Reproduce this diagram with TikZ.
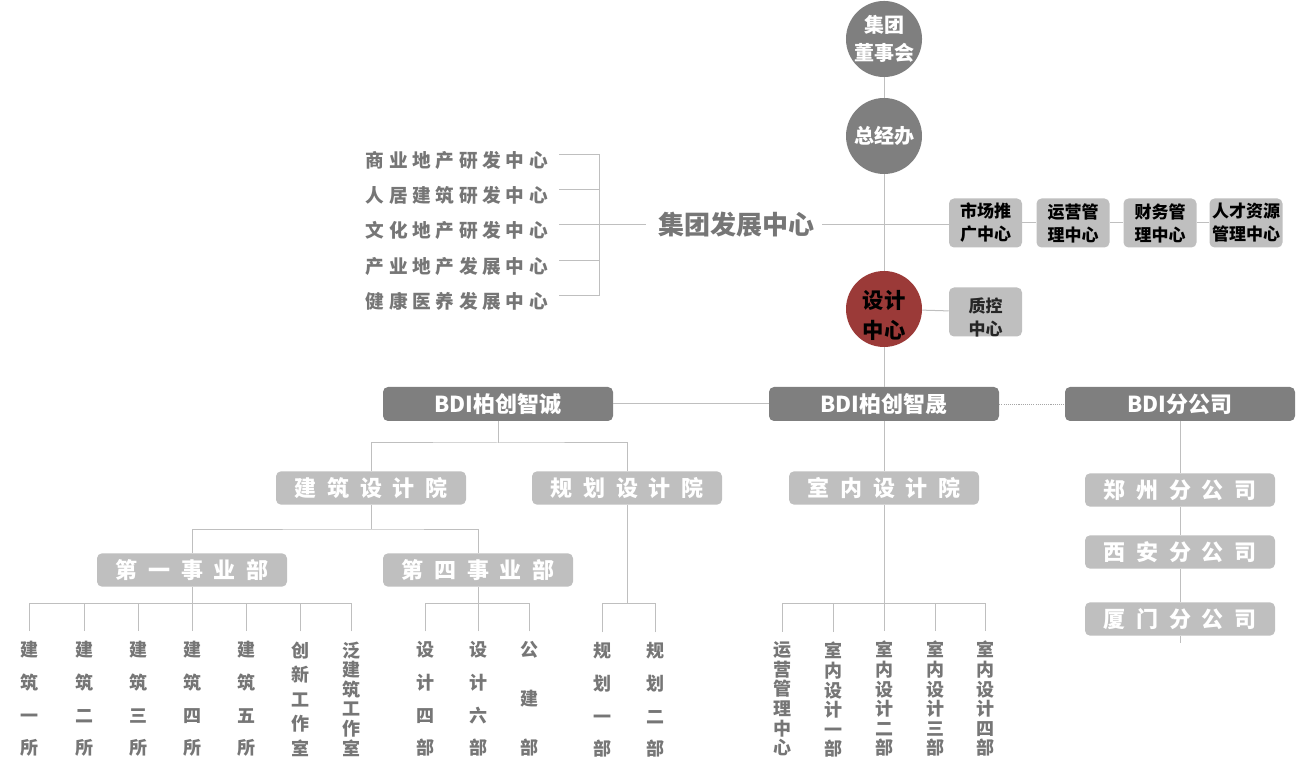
\documentclass[tikz,border=0pt]{standalone}
\usepackage{fontspec}
\setmainfont{Noto Sans CJK SC}
\newfontfamily\cjklist{Noto Sans CJK SC}[LetterSpace=25]
\newfontfamily\cjkwide{Noto Sans CJK SC}[LetterSpace=48]
\usetikzlibrary{calc}

\begin{document}
\begin{tikzpicture}[x=0.75pt,y=0.75pt,yscale=-1,xscale=1,
  link/.style={draw={rgb, 255:red, 191; green, 191; blue, 191 }, line width=0.75},
  dotlink/.style={draw={rgb, 255:red, 166; green, 166; blue, 166 }, line width=0.6, dash pattern={on 0.8pt off 0.8pt}},
  circ/.style={circle, fill={rgb, 255:red, 127; green, 127; blue, 127 }, minimum size=57pt, inner sep=0pt, align=center, text=white, font=\bfseries\fontsize{15}{21}\selectfont},
  redcirc/.style={circle, fill={rgb, 255:red, 155; green, 58; blue, 56 }, minimum size=57pt, inner sep=0pt},
  redtxt/.style={inner sep=0pt, text={rgb, 255:red, 0; green, 0; blue, 0 }, font=\bfseries\fontsize{16}{20}\selectfont},
  darkbox/.style={rounded corners=3.75pt, fill={rgb, 255:red, 127; green, 127; blue, 127 }, minimum width=172.5pt, minimum height=25.5pt, inner sep=0pt, text=white, font=\bfseries\fontsize{16.5}{18}\selectfont},
  widebox/.style={rounded corners=3.75pt, fill={rgb, 255:red, 191; green, 191; blue, 191 }, minimum width=142.5pt, minimum height=25pt, inner sep=0pt, text=white, font=\cjkwide\bfseries\fontsize{16.5}{18}\selectfont},
  smallbox/.style={rounded corners=3.75pt, fill={rgb, 255:red, 191; green, 191; blue, 191 }, minimum width=54.75pt, minimum height=36.75pt, inner sep=0pt, align=center, text=black, font=\bfseries\fontsize{12.75}{17.25}\selectfont},
  listtxt/.style={inner sep=0pt, text={rgb, 255:red, 118; green, 118; blue, 118 }, font=\cjklist\bfseries\fontsize{14}{16}\selectfont},
  vcol/.style={align=center, inner xsep=0pt, inner ysep=7.5pt, text={rgb, 255:red, 118; green, 118; blue, 118 }},
  vthree/.style={vcol, font=\bfseries\fontsize{13.5}{36.75}\selectfont},
  vfour/.style={vcol, font=\bfseries\fontsize{13.5}{24.5}\selectfont},
  vfive/.style={vcol, font=\bfseries\fontsize{13.5}{18.4}\selectfont},
  vsix/.style={vcol, font=\bfseries\fontsize{13.5}{14.7}\selectfont}
]
\useasboundingbox (0,0) rectangle (1296,766);

%Shape: Circle
\draw (884,39) node [circ] (board) {集团\\董事会};
%Shape: Circle
\draw (884,136) node [circ] (gm) {总经办};
%Shape: Circle
\draw (884,309) node [redcirc] (dc) {};
\draw ($(dc.center)+(0,-9)$) node [redtxt] (dct1) {设计};
\draw ($(dc.center)+(0,21)$) node [redtxt] (dct2) {中心};

% Text Node
\draw (736,225) node [inner sep=0pt, text={rgb, 255:red, 118; green, 118; blue, 118 }, font=\bfseries\fontsize{19.5}{22}\selectfont] (fz) {集团发展中心};
% Text Node
\draw (548,160) node [anchor=east][listtxt] (l1) {商业地产研发中心};
\draw (548,195) node [anchor=east][listtxt] (l2) {人居建筑研发中心};
\draw (548,230) node [anchor=east][listtxt] (l3) {文化地产研发中心};
\draw (548,266) node [anchor=east][listtxt] (l4) {产业地产发展中心};
\draw (548,301) node [anchor=east][listtxt] (l5) {健康医养发展中心};
\coordinate (brk) at (599,225);

%Shape: Rounded Rect
\draw (985.5,223) node [smallbox] (m1) {市场推\\广中心};
\draw (1073,223) node [smallbox] (m2) {运营管\\理中心};
\draw (1160,223) node [smallbox] (m3) {财务管\\理中心};
\draw (1246,223) node [smallbox] (m4) {人才资源\\管理中心};
\draw (985.5,312) node [smallbox] (qc) {};
\draw ($(qc.center)+(0,5)$) node [inner sep=0pt, align=center, text={rgb, 255:red, 38; green, 38; blue, 38 }, font=\bfseries\fontsize{12.75}{17.25}\selectfont] (qctext) {质控\\中心};

%Shape: Rounded Rect
\draw (498,404) node [darkbox] (b1) {BDI柏创智诚};
\draw (884,404) node [darkbox] (b2) {BDI柏创智晟};
\draw (1180,404) node [darkbox] (b3) {BDI分公司};

%Shape: Rounded Rect
\draw (371,488) node [widebox] (a1) {建筑设计院};
\draw (627,488) node [widebox] (a2) {规划设计院};
\draw (884,488) node [widebox] (a3) {室内设计院};
\draw (192,570) node [widebox] (d1) {第一事业部};
\draw (478,570) node [widebox] (d4) {第四事业部};
\draw (1180,490) node [widebox] (s1) {郑州分公司};
\draw (1180,552) node [widebox] (s2) {西安分公司};
\draw (1180,619) node [widebox] (s3) {厦门分公司};
\coordinate (s3end) at (1180,643);

% Text Node
\draw (29,699) node [vfour] (c11) {建\\筑\\一\\所};
\draw (84,699) node [vfour] (c12) {建\\筑\\二\\所};
\draw (138,699) node [vfour] (c13) {建\\筑\\三\\所};
\draw (192,699) node [vfour] (c14) {建\\筑\\四\\所};
\draw (246,699) node [vfour] (c15) {建\\筑\\五\\所};
\draw (300,699) node [vfive] (c16) {创\\新\\工\\作\\室};
\draw (351,699) node [vsix] (c17) {泛\\建\\筑\\工\\作\\室};
% Text Node
\draw (425,699) node [vfour] (c21) {设\\计\\四\\部};
\draw (478,699) node [vfour] (c22) {设\\计\\六\\部};
\draw (529,699) node [vthree] (c23) {公\\建\\部};
% Text Node
\draw (602,700) node [vfour] (c31) {规\\划\\一\\部};
\draw (655,700) node [vfour] (c32) {规\\划\\二\\部};
% Text Node
\draw (782,699) node [vsix] (c41) {运\\营\\管\\理\\中\\心};
\draw (833,700) node [vsix] (c42) {室\\内\\设\\计\\一\\部};
\draw (884,699) node [vsix] (c43) {室\\内\\设\\计\\二\\部};
\draw (935,699) node [vsix] (c44) {室\\内\\设\\计\\三\\部};
\draw (985,699) node [vsix] (c45) {室\\内\\设\\计\\四\\部};

\coordinate (j1) at (498,443);
\coordinate (j2) at (371,529);
\coordinate (j3) at (192,603);
\coordinate (j4) at (478,603);
\coordinate (j5) at (627,603);
\coordinate (j6) at (884,603);

% Connection
\draw [link] (board) -- (gm);
\draw [link] (gm) -- (dc);
\draw [link] (dc) -- (b2);
\draw [link] (b2) -- (a3);
% Connection
\draw [link] ($(l1.east)+(11,-5)$) -| (brk);
\draw [link] ($(l2.east)+(11,-5)$) -| (brk);
\draw [link] ($(l3.east)+(11,-5)$) -| (brk);
\draw [link] ($(l4.east)+(11,-5)$) -| (brk);
\draw [link] ($(l5.east)+(11,-5)$) -| (brk);
\draw [link] (brk) -- ($(fz.west)+(-12,0)$);
\draw [link] ($(fz.east)+(8,0)$) -- (fz.east -| m1.west);
\draw [link] (m1) -- (m2);
\draw [link] (m2) -- (m3);
\draw [link] (m3) -- (m4);
\draw [link] (dc) -- (qc);
% Connection
\draw [link] (b1) -- (b2);
\draw [dotlink] (b2) -- (b3);
\draw [link] (b1) -- (j1);
\draw [link] (a1.north) |- (j1) -| (a2.north);
\draw [link] (a1) -- (j2);
\draw [link] (d1.north) |- (j2) -| (d4.north);
% Connection
\draw [link] (d1) -- (j3);
\draw [link] (c11.north) |- (j3);
\draw [link] (c12.north) |- (j3);
\draw [link] (c13.north) |- (j3);
\draw [link] (c14.north) |- (j3);
\draw [link] (c15.north) |- (j3);
\draw [link] (c16.north) |- (j3);
\draw [link] (c17.north) |- (j3);
\draw [link] (d4) -- (j4);
\draw [link] (c21.north) |- (j4);
\draw [link] (c22.north) |- (j4);
\draw [link] (c23.north) |- (j4);
\draw [link] (a2) -- (j5);
\draw [link] (c31.north) |- (j5);
\draw [link] (c32.north) |- (j5);
\draw [link] (a3) -- (j6);
\draw [link] (c41.north) |- (j6);
\draw [link] (c42.north) |- (j6);
\draw [link] (c43.north) |- (j6);
\draw [link] (c44.north) |- (j6);
\draw [link] (c45.north) |- (j6);
% Connection
\draw [link] (b3) -- (s1);
\draw [link] (s1) -- (s2);
\draw [link] (s2) -- (s3);
\draw [link] (s3) -- (s3end);

\end{tikzpicture}
\end{document}
